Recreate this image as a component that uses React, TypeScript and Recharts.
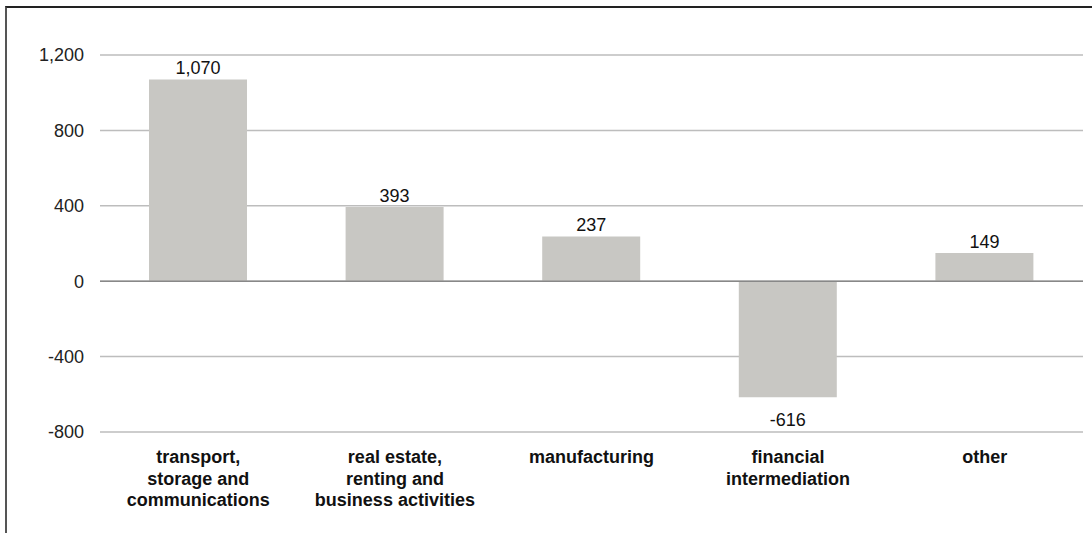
import React from "react";
import { BarChart, Bar, XAxis, YAxis, CartesianGrid, ReferenceLine, LabelList } from "recharts";

const categories = [
  "transport,\nstorage and\ncommunications",
  "real estate,\nrenting and\nbusiness activities",
  "manufacturing",
  "financial\nintermediation",
  "other",
];
const values = [1070, 393, 237, -616, 149];
const yTicks = [-800, -400, 0, 400, 800, 1200];

const data = categories.map((c, i) => ({ name: c, value: values[i] }));

const FONT = '"Liberation Sans", Arial, Helvetica, sans-serif';
const fmt = (v: number) => v.toLocaleString("en-US");

const CategoryTick = (props: any) => {
  const { x, payload } = props;
  const lines = String(payload.value).split("\n");
  return (
    <text
      x={x}
      y={463}
      textAnchor="middle"
      fontFamily={FONT}
      fontSize={18}
      fontWeight="bold"
      fill="#111"
    >
      {lines.map((l, i) => (
        <tspan key={i} x={x} dy={i === 0 ? 0 : 21.7}>
          {l}
        </tspan>
      ))}
    </text>
  );
};

const ValueLabel = (props: any) => {
  const { x, y, width, height, value } = props;
  const top = Math.min(y, y + height);
  const bottom = Math.max(y, y + height);
  const cx = x + width / 2;
  const ty = value >= 0 ? top - 5.5 : bottom + 29;
  return (
    <text x={cx} y={ty} textAnchor="middle" fontFamily={FONT} fontSize={18} fill="#111">
      {fmt(value)}
    </text>
  );
};

export default function App() {
  return (
    <div style={{ position: "absolute", left: 0, top: 0, width: 1092, height: 533, background: "#fff" }}>
      <div
        style={{
          position: "absolute",
          left: 5,
          top: 6,
          width: 1087,
          height: 527,
          borderTop: "2px solid #222",
          borderLeft: "2px solid #555",
          boxSizing: "border-box",
        }}
      />
      <div style={{ position: "absolute", left: 0, top: 0 }}>
        <BarChart
          width={1092}
          height={533}
          data={data}
          margin={{ top: 55, right: 9, bottom: 21, left: 0 }}
        >
          <CartesianGrid horizontal vertical={false} stroke="#bdbdbd" strokeWidth={1.5} />
          <XAxis
            dataKey="name"
            axisLine={false}
            tickLine={false}
            height={80}
            interval={0}
            tick={<CategoryTick />}
          />
          <YAxis
            width={100}
            domain={[-800, 1200]}
            ticks={yTicks}
            axisLine={false}
            tickLine={false}
            tickSize={0}
            tickMargin={16}
            tickFormatter={fmt}
            tick={{ fontFamily: FONT, fontSize: 18, fill: "#222" }}
          />
          <Bar dataKey="value" fill="#c8c7c3" barSize={98} isAnimationActive={false}>
            <LabelList dataKey="value" content={<ValueLabel />} />
          </Bar>
          <ReferenceLine y={0} stroke="#888" strokeWidth={1.5} />
        </BarChart>
      </div>
    </div>
  );
}
